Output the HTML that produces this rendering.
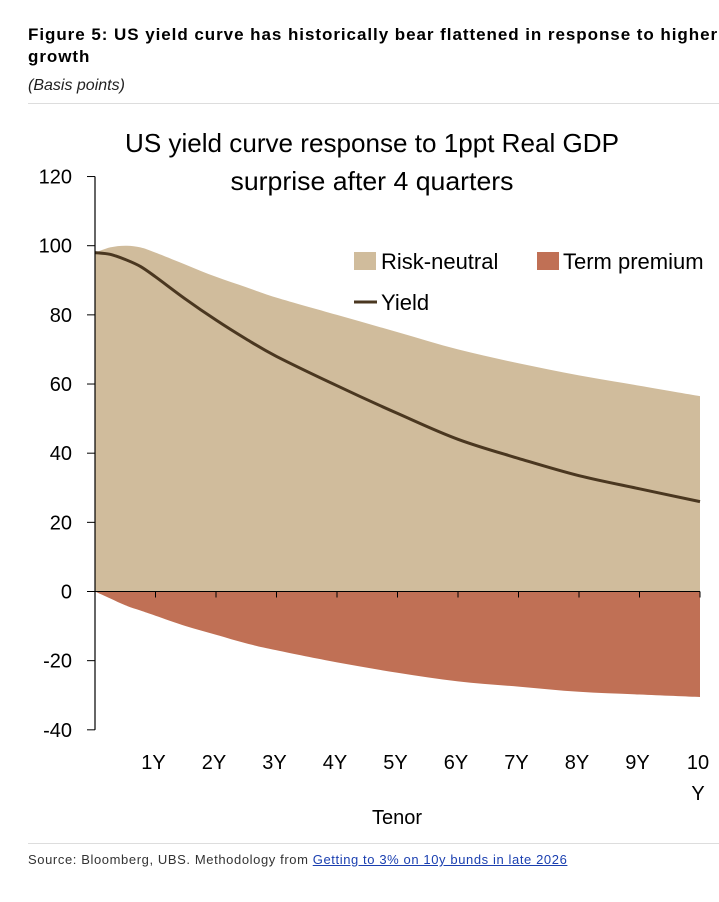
<!DOCTYPE html>
<html><head><meta charset="utf-8">
<style>
body{margin:0;width:719px;height:902px;background:#fff;overflow:hidden;font-family:"Liberation Sans",sans-serif;position:relative}
.h{position:absolute;left:28px;color:#000}
</style></head><body>
<div class="h" style="top:24px;font-weight:bold;font-size:17px;line-height:22px;width:700px;white-space:nowrap;letter-spacing:0.95px">Figure 5: US yield curve has historically bear flattened in response to higher<br>growth</div>
<div class="h" style="top:77px;font-style:italic;font-size:16px;color:#222">(Basis points)</div>
<div style="position:absolute;left:28px;top:103px;width:691px;height:1px;background:#ddd"></div>
<svg id="chart" width="719" height="740" style="position:absolute;left:0;top:104px" viewBox="0 104 719 740"></svg>
<div style="position:absolute;left:28px;top:843px;width:691px;height:1px;background:#ddd"></div>
<div class="h" style="top:852px;font-size:13px;color:#333;letter-spacing:0.6px">Source: Bloomberg, UBS. Methodology from <span style="color:#1a3fb0;text-decoration:underline">Getting to 3% on 10y bunds in late 2026</span></div>
<script>
const tenors=[0,0.25,0.5,0.75,1,1.5,2,2.5,3,4,5,6,7,8,9,10];
const riskNeutral=[98,99.5,100,99.5,98,94.5,91,88,85,80,75,70,66,62.5,59.5,56.5];
const termPremium=[0,-2,-4,-5.5,-7,-10,-12.5,-15,-17,-20.5,-23.5,-26,-27.5,-29,-29.8,-30.5];
const yieldVals=[98,97.5,96,94,91,84.5,78.5,73,68,59.5,51.5,44,38.5,33.5,29.7,26];
const yTicks=[120,100,80,60,40,20,0,-20,-40];
const xLabels=["1Y","2Y","3Y","4Y","5Y","6Y","7Y","8Y","9Y","10"];
const NS="http://www.w3.org/2000/svg";
const svg=document.getElementById('chart');
const X=t=>95+t*60.5;
const Y=v=>591.5-v*3.458;
function el(tag,attrs,txt){const e=document.createElementNS(NS,tag);for(const k in attrs)e.setAttribute(k,attrs[k]);if(txt!==undefined)e.textContent=txt;svg.appendChild(e);return e;}
function smooth(vals){
 const p=tenors.map((t,i)=>[X(t),Y(vals[i])]);
 let d='M'+p[0][0].toFixed(1)+','+p[0][1].toFixed(1);
 for(let i=0;i<p.length-1;i++){
  const p0=p[Math.max(0,i-1)],p1=p[i],p2=p[i+1],p3=p[Math.min(p.length-1,i+2)];
  const c1=[p1[0]+(p2[0]-p0[0])/6,p1[1]+(p2[1]-p0[1])/6];
  const c2=[p2[0]-(p3[0]-p1[0])/6,p2[1]-(p3[1]-p1[1])/6];
  d+='C'+c1[0].toFixed(1)+','+c1[1].toFixed(1)+' '+c2[0].toFixed(1)+','+c2[1].toFixed(1)+' '+p2[0].toFixed(1)+','+p2[1].toFixed(1);
 }
 return d;}
let a=el('path',{d:smooth(riskNeutral)+'L'+X(10)+','+Y(0)+'L'+X(0)+','+Y(0)+'Z',fill:'#d0bc9c'});

let b=el('path',{d:smooth(termPremium)+'L'+X(10)+','+Y(0)+'L'+X(0)+','+Y(0)+'Z',fill:'#c07055'});

let l=el('path',{d:smooth(yieldVals),fill:'none',stroke:'#4a3720','stroke-width':3,'stroke-linejoin':'round'});

let ax=el('line',{x1:95,y1:Y(120),x2:95,y2:Y(-40),stroke:'#000','stroke-width':1.2});

let zx=el('line',{x1:95,y1:Y(0),x2:X(10),y2:Y(0),stroke:'#000','stroke-width':1});

yTicks.forEach(v=>{
 let t=el('line',{x1:87,y1:Y(v),x2:95,y2:Y(v),stroke:'#000'});
 
 let tx=el('text',{x:72,y:Y(v)+7,'text-anchor':'end','font-size':20,fill:'#000'},String(v));
 
});
xLabels.forEach((s,i)=>{
 let t=el('line',{x1:X(i+1),y1:Y(0),x2:X(i+1),y2:Y(0)+6,stroke:'#000'});
 
 let tx=el('text',{x:X(i+1)-2,y:769,'text-anchor':'middle','font-size':20,fill:'#000'},s);
 
});
let ty=el('text',{x:698,y:800,'text-anchor':'middle','font-size':20},'Y');

let xt=el('text',{x:397,y:824,'text-anchor':'middle','font-size':20},'Tenor');

let t1=el('text',{x:372,y:152,'text-anchor':'middle','font-size':26,textLength:494,lengthAdjust:'spacingAndGlyphs'},'US yield curve response to 1ppt Real GDP');

let t2=el('text',{x:372,y:190,'text-anchor':'middle','font-size':26,textLength:283,lengthAdjust:'spacingAndGlyphs'},'surprise after 4 quarters');

let s1=el('rect',{x:354,y:252,width:22,height:18,fill:'#d0bc9c'});

let l1=el('text',{x:381,y:269,'font-size':22},'Risk-neutral');

let s2=el('rect',{x:537,y:252,width:22,height:18,fill:'#c07055'});

let l2=el('text',{x:563,y:269,'font-size':22},'Term premium');

let s3=el('line',{x1:354,y1:302,x2:377,y2:302,stroke:'#4a3720','stroke-width':3});

let l3=el('text',{x:381,y:310,'font-size':22},'Yield');

</script>
</body></html>
